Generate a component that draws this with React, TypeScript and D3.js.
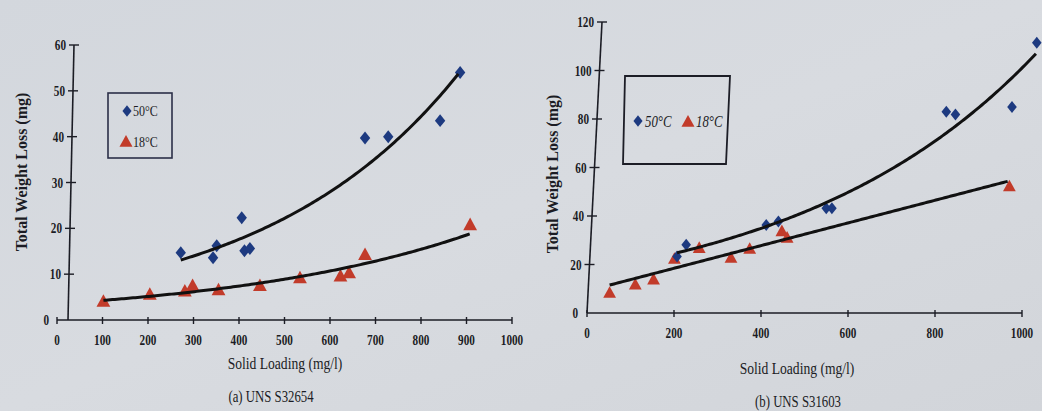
import React from 'react';
import * as d3 from 'd3';

// ---- data ----
// (a) UNS S32654
const aHot: [number, number][] = [
  [272, 14.7], [343, 13.6], [351, 16.2], [406, 22.3], [412, 15.1],
  [424, 15.6], [677, 39.7], [728, 40.0], [842, 43.5], [886, 54.0],
];
const aCold: [number, number][] = [
  [102, 4.0], [204, 5.5], [281, 6.2], [298, 7.4], [355, 6.5], [446, 7.4],
  [534, 9.1], [623, 9.5], [642, 10.2], [677, 14.2], [908, 20.7],
];
// (b) UNS S31603
const bHot: [number, number][] = [
  [207, 23.3], [228, 28.1], [412, 36.3], [440, 37.7], [550, 43.2],
  [563, 43.2], [826, 83.0], [847, 81.9], [977, 85.0], [1034, 111.4],
];
const bCold: [number, number][] = [
  [52, 8.2], [111, 11.6], [153, 13.7], [201, 22.2], [258, 26.7],
  [331, 22.6], [374, 26.3], [448, 33.6], [460, 30.9], [971, 52.1],
];

const aXTicks = [0, 100, 200, 300, 400, 500, 600, 700, 800, 900, 1000];
const aYTicks = [0, 10, 20, 30, 40, 50, 60];
const bXTicks = [0, 200, 400, 600, 800, 1000];
const bYTicks = [0, 20, 40, 60, 80, 100, 120];

const hotLabel = '50°C';
const coldLabel = '18°C';

const BLUE = '#1d3a80';
const RED = '#c23b2a';
const INK = '#1b1c24';
const FONT = "'Liberation Serif', 'Times New Roman', serif";

// marker shapes
const diamondType = {
  draw(ctx: any, size: number) {
    const h = Math.sqrt(size);
    const w = h * 0.8;
    ctx.moveTo(0, -h / 2);
    ctx.lineTo(w / 2, 0);
    ctx.lineTo(0, h / 2);
    ctx.lineTo(-w / 2, 0);
    ctx.closePath();
  },
};
const triangleType = {
  draw(ctx: any, size: number) {
    const h = Math.sqrt(size);
    const w = h * 1.1;
    ctx.moveTo(0, -h * 0.6);
    ctx.lineTo(w / 2, h * 0.4);
    ctx.lineTo(-w / 2, h * 0.4);
    ctx.closePath();
  },
};

// excel-style trendlines
function expFit(pts: [number, number][]) {
  const xs = pts.map((p) => p[0]);
  const ls = pts.map((p) => Math.log(p[1]));
  const mx = d3.mean(xs)!;
  const my = d3.mean(ls)!;
  const b = d3.sum(xs, (x, i) => (x - mx) * (ls[i] - my)) / d3.sum(xs, (x) => (x - mx) ** 2);
  const a = Math.exp(my - b * mx);
  return (x: number) => a * Math.exp(b * x);
}
function linFit(pts: [number, number][]) {
  const xs = pts.map((p) => p[0]);
  const ys = pts.map((p) => p[1]);
  const mx = d3.mean(xs)!;
  const my = d3.mean(ys)!;
  const b = d3.sum(xs, (x, i) => (x - mx) * (ys[i] - my)) / d3.sum(xs, (x) => (x - mx) ** 2);
  return (x: number) => my + b * (x - mx);
}

type PanelProps = {
  hot: [number, number][];
  cold: [number, number][];
  xTicks: number[];
  yTicks: number[];
  xRange: [number, number];
  yRange: [number, number];
  yMax: number;
  axisBottomX: number; // y axis position at the bottom (photo is slightly tilted)
  axisTopX: number;
  hotFit: (x: number) => number;
  coldFit: (x: number) => number;
  markerScale: number;
  xTitle: { x: number; y: number };
  caption: { x: number; y: number; text: string };
  yTitle: { x: number; y: number };
  legend: React.ReactNode;
  zeroLabelX: number;
};

const Panel = (p: PanelProps) => {
  const x = d3.scaleLinear().domain([0, 1000]).range(p.xRange);
  const y = d3.scaleLinear().domain([0, p.yMax]).range(p.yRange);
  // x of the y axis at a given pixel height
  const ax = (py: number) =>
    p.axisBottomX + ((p.yRange[0] - py) / (p.yRange[0] - p.yRange[1])) * (p.axisTopX - p.axisBottomX);

  const line = d3.line<number>().x((v) => x(v)).curve(d3.curveLinear);
  const trend = (pts: [number, number][], f: (v: number) => number) => {
    const [lo, hi] = d3.extent(pts, (d) => d[0]) as [number, number];
    const xs = d3.range(lo, hi + 1, 5);
    return line.y((v) => y(f(v)))(xs) || '';
  };

  const dia = d3.symbol().type(diamondType as any).size(160 * p.markerScale);
  const tri = d3.symbol().type(triangleType as any).size(150 * p.markerScale);

  return (
    <g>
      {/* x axis */}
      <line x1={p.xRange[0]} x2={p.xRange[1]} y1={p.yRange[0]} y2={p.yRange[0]} stroke={INK} strokeWidth={1.6} />
      {p.xTicks.map((t) => (
        <g key={'xt' + t}>
          <line x1={x(t)} x2={x(t)} y1={p.yRange[0] - 3} y2={p.yRange[0] + 4} stroke={INK} strokeWidth={1.4} />
          <text
            transform={`translate(${x(t)},${p.yRange[0] + 25}) scale(0.8,1)`}
            textAnchor="middle"
            fontSize={14}
            fontWeight="bold"
            fill={INK}
          >
            {t}
          </text>
        </g>
      ))}
      {/* y axis */}
      <line x1={ax(p.yRange[0])} x2={ax(p.yRange[1])} y1={p.yRange[0]} y2={p.yRange[1]} stroke={INK} strokeWidth={1.6} />
      {p.yTicks.map((t) => {
        const py = y(t);
        const cx = ax(py);
        return (
          <g key={'yt' + t}>
            {t > 0 && <line x1={cx - 5} x2={cx + 5} y1={py} y2={py} stroke={INK} strokeWidth={1.4} />}
            <text
              transform={`translate(${t === 0 ? p.zeroLabelX : cx - 8},${py + 5}) scale(0.8,1)`}
              textAnchor="end"
              fontSize={14}
              fontWeight="bold"
              fill={INK}
            >
              {t}
            </text>
          </g>
        );
      })}
      {/* markers */}
      {p.cold.map((d, i) => (
        <path key={'c' + i} d={tri() || ''} transform={`translate(${x(d[0])},${y(d[1])})`} fill={RED} />
      ))}
      {p.hot.map((d, i) => (
        <path key={'h' + i} d={dia() || ''} transform={`translate(${x(d[0])},${y(d[1])})`} fill={BLUE} />
      ))}
      {/* trendlines */}
      <path d={trend(p.hot, p.hotFit)} fill="none" stroke="#111" strokeWidth={3} />
      <path d={trend(p.cold, p.coldFit)} fill="none" stroke="#111" strokeWidth={3} />
      {/* titles */}
      <text
        transform={`translate(${p.yTitle.x},${p.yTitle.y}) rotate(-90)`}
        textAnchor="middle"
        fontSize={16}
        fontWeight="bold"
        fill={INK}
      >
        Total Weight Loss (mg)
      </text>
      <text
        transform={`translate(${p.xTitle.x},${p.xTitle.y}) scale(0.8,1)`}
        textAnchor="middle"
        fontSize={17}
        fill={INK}
      >
        Solid Loading (mg/l)
      </text>
      <text
        transform={`translate(${p.caption.x},${p.caption.y}) scale(0.8,1)`}
        textAnchor="middle"
        fontSize={16}
        fill={INK}
      >
        {p.caption.text}
      </text>
      {p.legend}
    </g>
  );
};

const App = () => {
  const dia = d3.symbol().type(diamondType as any);
  const tri = d3.symbol().type(triangleType as any);

  const legendA = (
    <g>
      <rect x={108} y={93} width={64} height={65} fill="none" stroke="#2b2f48" strokeWidth={1.6} />
      <path d={dia.size(130)() || ''} transform="translate(127,111)" fill={BLUE} />
      <text transform="translate(133,116) scale(0.8,1)" fontSize={15} fill={INK}>{hotLabel}</text>
      <path d={tri.size(140)() || ''} transform="translate(126,142)" fill={RED} />
      <text transform="translate(133,147) scale(0.8,1)" fontSize={15} fill={INK}>{coldLabel}</text>
    </g>
  );
  const legendB = (
    <g>
      <path d="M625,76 L730,76 L726,164 L623,164 Z" fill="none" stroke="#1c1d26" strokeWidth={1.8} />
      <path d={dia.size(130)() || ''} transform="translate(638,121)" fill={BLUE} />
      <text transform="translate(645,127) scale(0.8,1)" fontSize={16} fontStyle="italic" fill={INK}>{hotLabel}</text>
      <path d={tri.size(140)() || ''} transform="translate(688,122)" fill={RED} />
      <text transform="translate(696,127) scale(0.8,1)" fontSize={16} fontStyle="italic" fill={INK}>{coldLabel}</text>
    </g>
  );

  return (
    <div style={{ position: 'absolute', left: 0, top: 0 }}>
      <svg width={1042} height={411} style={{ display: 'block', fontFamily: FONT }}>
        <defs>
          <linearGradient id="paper" x1="0" y1="0" x2="1" y2="1">
            <stop offset="0" stopColor="#d3d7dd" />
            <stop offset="0.5" stopColor="#d8dbe0" />
            <stop offset="1" stopColor="#d2d5da" />
          </linearGradient>
        </defs>
        <rect width={1042} height={411} fill="url(#paper)" />
        <Panel
          hot={aHot}
          cold={aCold}
          xTicks={aXTicks}
          yTicks={aYTicks}
          xRange={[57, 512]}
          yRange={[320, 45]}
          yMax={60}
          axisBottomX={68}
          axisTopX={74}
          hotFit={expFit(aHot)}
          coldFit={expFit(aCold)}
          markerScale={1.05}
          xTitle={{ x: 285, y: 369 }}
          caption={{ x: 271, y: 402, text: '(a) UNS S32654' }}
          yTitle={{ x: 27, y: 172 }}
          legend={legendA}
          zeroLabelX={49}
        />
        <Panel
          hot={bHot}
          cold={bCold}
          xTicks={bXTicks}
          yTicks={bYTicks}
          xRange={[587, 1022]}
          yRange={[313, 22]}
          yMax={120}
          axisBottomX={587}
          axisTopX={602}
          hotFit={expFit(bHot)}
          coldFit={linFit(bCold)}
          markerScale={0.9}
          xTitle={{ x: 797, y: 374 }}
          caption={{ x: 798, y: 407, text: '(b) UNS S31603' }}
          yTitle={{ x: 558, y: 174 }}
          legend={legendB}
          zeroLabelX={578}
        />
      </svg>
    </div>
  );
};

export default App;
